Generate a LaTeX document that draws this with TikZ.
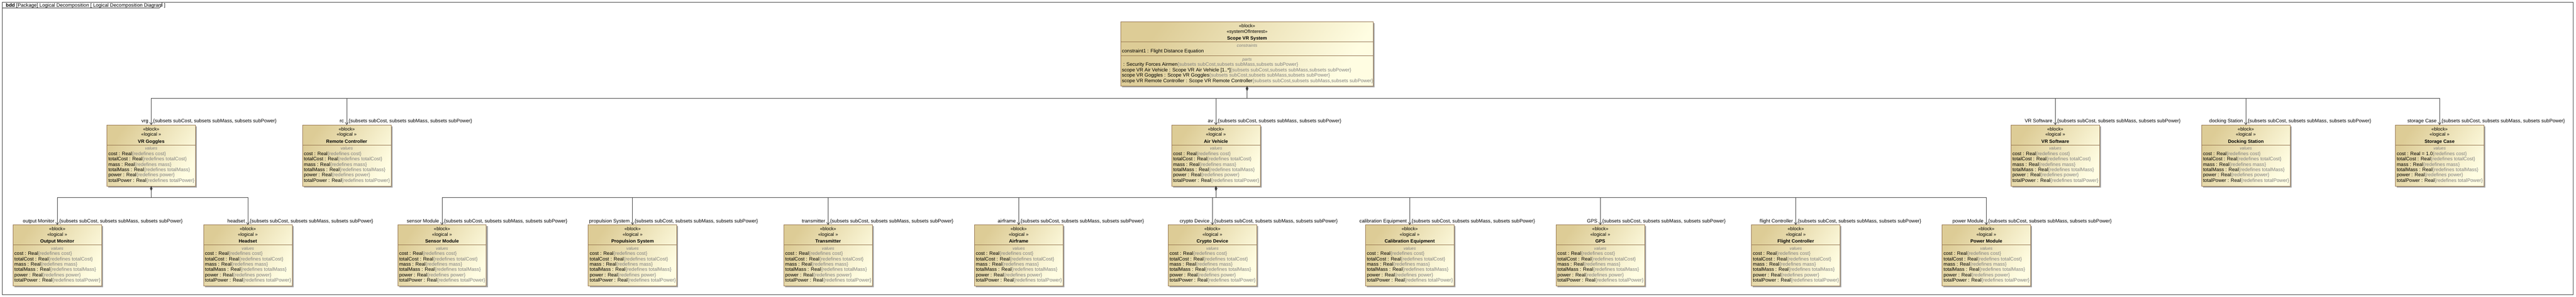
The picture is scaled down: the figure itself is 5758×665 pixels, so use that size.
\documentclass[tikz,border=0pt]{standalone}
\usepackage{fontspec}
\setmainfont{Liberation Sans}
\usetikzlibrary{arrows.meta}

\definecolor{blockdark}{RGB}{221,204,150}
\definecolor{blocklight}{RGB}{255,253,226}
\definecolor{blockedge}{RGB}{150,118,80}
\definecolor{shadowgrey}{RGB}{165,165,165}
\definecolor{redefgrey}{RGB}{128,128,128}
\definecolor{linegrey}{RGB}{64,64,64}

\tikzset{
  blockbox/.style={draw=blockedge, line width=1pt, top color=blockdark, bottom color=blocklight,
    shading angle=55, anchor=north west, inner sep=0pt, outer sep=0pt},
  txt/.style={font=\fontsize{11}{12}\selectfont, inner sep=0pt, anchor=base},
  stereo/.style={txt, font=\fontsize{10.5}{12}\selectfont},
  bname/.style={txt, font=\fontsize{10.5}{12}\selectfont\bfseries},
  comphead/.style={txt, font=\fontsize{9.5}{11}\selectfont\itshape, text=redefgrey},
  valtxt/.style={txt, anchor=base west},
  comp/.style={draw=linegrey, line width=1pt,
    {Diamond[length=11pt,width=5pt,fill=linegrey]}-{Straight Barb[length=5pt,width=7pt]}},
  role/.style={txt, anchor=base east, xshift=-6pt, yshift=5pt},
  subs/.style={txt, anchor=base west, xshift=4pt, yshift=5pt},
}

% logical block: name, x, y (top left), title, default of cost
\newcommand{\logicalblock}[5]{%
  \fill[shadowgrey] (#2+3,#3+3) rectangle (#2+201,#3+140);
  \node[blockbox, minimum width=198pt, minimum height=137pt] (#1) at (#2,#3) {};
  \draw[blockedge, line width=1pt] (#2,#3+45) -- (#2+198,#3+45);
  \node[stereo] (#1-s1) at (#2+99,#3+13) {«block»};
  \node[stereo] (#1-s2) at (#2+99,#3+25) {«logical »};
  \node[bname] (#1-nm) at (#2+99,#3+40.3) {#4};
  \node[comphead] (#1-hd) at (#2+99,#3+56) {values};
  \foreach \v [count=\i] in {cost,totalCost,mass,totalMass,power,totalPower}
    \node[valtxt] (#1-v\i) at (#2+3,#3+56+12*\i)
      {\v{} : Real\ifnum\i=1 #5\fi\textcolor{redefgrey}{\{redefines \v\}}};
}

\begin{document}
\begin{tikzpicture}[x=1pt, y=-1pt]
\useasboundingbox (0,0) rectangle (5758,665);

% frame
\draw[linegrey, line width=1pt] (5,5) rectangle (5752,660);
\draw[linegrey, line width=1pt] (5,18) -- (356,18) -- (362,12) -- (362,5);
\node[txt, anchor=base west] (title) at (13,15.5)
  {\textbf{bdd} [Package] Logical Decomposition [ Logical Decomposition Diagram ]};

% system of interest
\fill[shadowgrey] (2508,52) rectangle (3073,196);
\node[blockbox, minimum width=565pt, minimum height=144pt] (sys) at (2505,49) {};
\node[stereo] (sys-s1) at (2787.5,62) {«block»};
\node[stereo] (sys-s2) at (2787.5,74.5) {«systemOfInterest»};
\node[bname] (sys-nm) at (2787.5,89) {Scope VR System};
\draw[blockedge, line width=1pt] (2505,94.3) -- (3070,94.3);
\node[comphead] (sys-hc) at (2787.5,105.3) {constraints};
\node[valtxt] (sys-c1) at (2507.5,117.5) {constraint1 : Flight Distance Equation};
\draw[blockedge, line width=1pt] (2505,125) -- (3070,125);
\node[comphead] (sys-hp) at (2787.5,136) {parts};
\node[valtxt] (sys-p1) at (2507.5,148.3)
  {\ : Security Forces Airmen\textcolor{redefgrey}{\{subsets subCost,subsets subMass,subsets subPower\}}};
\node[valtxt] (sys-p2) at (2507.5,160.3)
  {scope VR Air Vehicle : Scope VR Air Vehicle [1..*]\textcolor{redefgrey}{\{subsets subCost,subsets subMass,subsets subPower\}}};
\node[valtxt] (sys-p3) at (2507.5,172.3)
  {scope VR Goggles : Scope VR Goggles\textcolor{redefgrey}{\{subsets subCost,subsets subMass,subsets subPower\}}};
\node[valtxt] (sys-p4) at (2507.5,184.3)
  {scope VR Remote Controller : Scope VR Remote Controller\textcolor{redefgrey}{\{subsets subCost,subsets subMass,subsets subPower\}}};

% middle row
\logicalblock{vrg}{239}{280}{VR Goggles}{}
\logicalblock{rc}{676}{280}{Remote Controller}{}
\logicalblock{av}{2619}{280}{Air Vehicle}{}
\logicalblock{vrsw}{4495}{280}{VR Software}{}
\logicalblock{dock}{4921}{280}{Docking Station}{}
\logicalblock{store}{5354}{280}{Storage Case}{ = 1.0}

% bottom row
\logicalblock{om}{29}{504}{Output Monitor}{}
\logicalblock{hs}{455}{504}{Headset}{}
\logicalblock{sens}{889}{504}{Sensor Module}{}
\logicalblock{prop}{1315}{504}{Propulsion System}{}
\logicalblock{trans}{1752}{504}{Transmitter}{}
\logicalblock{afr}{2178}{504}{Airframe}{}
\logicalblock{cry}{2611}{504}{Crypto Device}{}
\logicalblock{cal}{3052}{504}{Calibration Equipment}{}
\logicalblock{gps}{3478}{504}{GPS}{}
\logicalblock{fc}{3915}{504}{Flight Controller}{}
\logicalblock{pwr}{4341}{504}{Power Module}{}

% composition
\foreach \c/\r in {vrg/vrg, rc/rc, av/av, vrsw/VR Software, dock/docking Station, store/storage Case}
  \draw[comp] (sys.south) -- ++(0,27) -| (\c.north)
    node[role] (\c-rl) {\r}
    node[subs] (\c-sb) {\{subsets subCost, subsets subMass, subsets subPower\}};
\foreach \c/\r in {om/output Monitor, hs/headset}
  \draw[comp] (vrg.south) -- ++(0,26) -| (\c.north)
    node[role] (\c-rl) {\r}
    node[subs] (\c-sb) {\{subsets subCost, subsets subMass, subsets subPower\}};
\foreach \c/\r in {sens/sensor Module, prop/propulsion System, trans/transmitter, afr/airframe,
    cry/crypto Device, cal/calibration Equipment, gps/GPS, fc/flight Controller, pwr/power Module}
  \draw[comp] (av.south) -- ++(0,26) -| (\c.north)
    node[role] (\c-rl) {\r}
    node[subs] (\c-sb) {\{subsets subCost, subsets subMass, subsets subPower\}};
\end{tikzpicture}
\end{document}
